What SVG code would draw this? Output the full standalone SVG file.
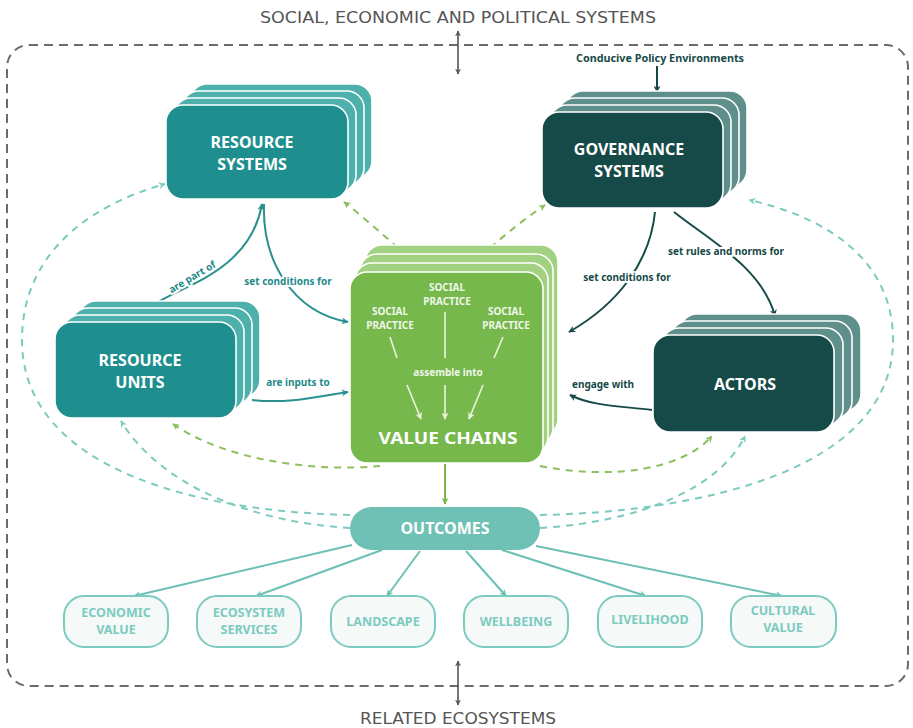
<svg xmlns="http://www.w3.org/2000/svg" width="913" height="728" viewBox="0 0 913 728">
  <defs>
    <style>
      .frame{fill:none;stroke:#6b6b6b;stroke-width:2;stroke-dasharray:9 6}
      .sys{font-family:"DejaVu Sans Condensed","DejaVu Sans",sans-serif;font-size:16px;fill:#555;text-anchor:middle}
      .card{stroke:#fff;stroke-width:1.6}
      .rs-back{fill:#4eb0ab}.rs-front{fill:#1e8f8e}
      .gv-back{fill:#5e8f8b}.gv-front{fill:#164a48}
      .vc-back{fill:#a3d182}.vc-front{fill:#77b84c}
      .title{font-family:"Noto Sans","Open Sans",sans-serif;font-weight:700;font-size:16px;fill:#fff;text-anchor:middle}
      .small{font-family:"Noto Sans","Open Sans",sans-serif;font-weight:700;font-size:10px;fill:#eef6e8;text-anchor:middle}
      .lbl{font-family:"Noto Sans","Open Sans",sans-serif;font-weight:700;font-size:10px;text-anchor:middle;paint-order:stroke;stroke:#fff;stroke-width:4px;stroke-linejoin:round}
      .lt{fill:#1e8a8a}.ld{fill:#164a48}
      .c-teal{fill:none;stroke:#2a9090;stroke-width:2;marker-end:url(#ah-teal)}
      .c-dark{fill:none;stroke:#164a48;stroke-width:2;marker-end:url(#ah-dark)}
      .c-gdash{fill:none;stroke:#8dbf5e;stroke-width:2;stroke-dasharray:7 6;marker-end:url(#ah-gdash)}
      .c-tdash{fill:none;stroke:#7ccbc0;stroke-width:2;stroke-dasharray:7 6;marker-end:url(#ah-tdash)}
      .c-out{fill:none;stroke:#6cc0b5;stroke-width:2;marker-end:url(#ah-out)}
      .c-in{fill:none;stroke:#eaf4e2;stroke-width:1.6}
      .c-inar{fill:none;stroke:#eaf4e2;stroke-width:1.6;marker-end:url(#ah-white)}
      .res{fill:#f5f9f8;stroke:#7ccbc0;stroke-width:2}
      .rest{font-family:"Noto Sans","Open Sans",sans-serif;font-weight:700;font-size:12.5px;fill:#7ccbc0;text-anchor:middle}
    </style>
    <marker id="ah-teal" viewBox="0 0 10 10" refX="9" refY="5" markerWidth="7" markerHeight="7" markerUnits="userSpaceOnUse" orient="auto"><path d="M0,0 L10,5 L0,10 L3,5 Z" fill="#2a9090"/></marker>
    <marker id="ah-dark" viewBox="0 0 10 10" refX="9" refY="5" markerWidth="7" markerHeight="7" markerUnits="userSpaceOnUse" orient="auto"><path d="M0,0 L10,5 L0,10 L3,5 Z" fill="#164a48"/></marker>
    <marker id="ah-gdash" viewBox="0 0 10 10" refX="9" refY="5" markerWidth="7" markerHeight="7" markerUnits="userSpaceOnUse" orient="auto"><path d="M0,0 L10,5 L0,10 L3,5 Z" fill="#8dbf5e"/></marker>
    <marker id="ah-tdash" viewBox="0 0 10 10" refX="9" refY="5" markerWidth="7" markerHeight="7" markerUnits="userSpaceOnUse" orient="auto"><path d="M0,0 L10,5 L0,10 L3,5 Z" fill="#7ccbc0"/></marker>
    <marker id="ah-out" viewBox="0 0 10 10" refX="9" refY="5" markerWidth="7" markerHeight="7" markerUnits="userSpaceOnUse" orient="auto"><path d="M0,0 L10,5 L0,10 L3,5 Z" fill="#6cc0b5"/></marker>
    <marker id="ah-green" viewBox="0 0 10 10" refX="9" refY="5" markerWidth="7" markerHeight="7" markerUnits="userSpaceOnUse" orient="auto"><path d="M0,0 L10,5 L0,10 L3,5 Z" fill="#7ab648"/></marker>
    <marker id="ah-white" viewBox="0 0 10 10" refX="9" refY="5" markerWidth="7" markerHeight="7" markerUnits="userSpaceOnUse" orient="auto"><path d="M0,0 L10,5 L0,10 L3,5 Z" fill="#eaf4e2"/></marker>
    <marker id="ah-gray" viewBox="0 0 10 10" refX="9" refY="5" markerWidth="6" markerHeight="6" markerUnits="userSpaceOnUse" orient="auto-start-reverse"><path d="M0,0 L10,5 L0,10 L3,5 Z" fill="#555"/></marker>
  </defs>

  <rect width="913" height="728" fill="#fff"/>

  <!-- outer system boundary -->
  <g id="boundary">
    <rect class="frame" x="7" y="45" width="901" height="641" rx="22"/>
    <text class="sys" x="458" y="23" textLength="396" lengthAdjust="spacingAndGlyphs">SOCIAL, ECONOMIC AND POLITICAL SYSTEMS</text>
    <line x1="458" y1="31" x2="458" y2="74" stroke="#555" stroke-width="1.6" marker-start="url(#ah-gray)" marker-end="url(#ah-gray)"/>
    <text class="sys" x="458" y="724" textLength="196" lengthAdjust="spacingAndGlyphs">RELATED ECOSYSTEMS</text>
    <line x1="458" y1="661" x2="458" y2="705" stroke="#555" stroke-width="1.6" marker-start="url(#ah-gray)" marker-end="url(#ah-gray)"/>
  </g>

  <!-- connectors -->
  <g id="connectors">
    <!-- dashed feedback loops from outcomes -->
    <path class="c-tdash" d="M350,515 C200,512 22,470 22,340 C22,260 80,208 165,184"/>
    <path class="c-tdash" d="M350,528 C250,522 160,485 121,421"/>
    <path class="c-tdash" d="M540,515 C700,512 893,470 893,340 C893,262 830,218 749,200"/>
    <path class="c-tdash" d="M540,528 C640,522 720,488 745,436"/>
    <!-- dashed links from value chains -->
    <path class="c-gdash" d="M398,248 C380,232 362,216 344,202"/>
    <path class="c-gdash" d="M490,248 C508,232 526,218 545,205"/>
    <path class="c-gdash" d="M380,466 C320,472 228,462 173,424"/>
    <path class="c-gdash" d="M540,466 C612,480 682,470 712,436"/>

    <!-- resource side -->
    <path class="c-teal" d="M155,304 C180,286 250,272 262,204"/>
    <path class="c-teal" d="M264,204 C262,260 292,312 348,322"/>
    <path class="c-teal" d="M252,400 C290,404 320,396 348,392"/>

    <!-- governance side -->
    <path class="c-dark" d="M657,66 L657,92"/>
    <path class="c-dark" d="M655,212 C650,262 618,304 569,332"/>
    <path class="c-dark" d="M674,212 C712,242 762,268 775,316"/>
    <path class="c-dark" d="M652,410 C620,406 592,406 570,395"/>

    <!-- value chains to outcomes -->
    <path d="M445,464 L445,504" fill="none" stroke="#7ab648" stroke-width="2" marker-end="url(#ah-green)"/>

    <!-- outcomes to results -->
    <path class="c-out" d="M352,545 L134,596"/>
    <path class="c-out" d="M382,550 L256,596"/>
    <path class="c-out" d="M420,551 L387,596"/>
    <path class="c-out" d="M466,551 L506,596"/>
    <path class="c-out" d="M502,550 L646,596"/>
    <path class="c-out" d="M536,546 L782,596"/>

    <!-- connector labels -->
    <text class="lbl lt" transform="translate(194,280) rotate(-31)">are part of</text>
    <text class="lbl lt" x="288" y="285">set conditions for</text>
    <text class="lbl lt" x="298" y="386">are inputs to</text>
    <text class="lbl ld" x="627" y="281">set conditions for</text>
    <text class="lbl ld" x="726" y="255">set rules and norms for</text>
    <text class="lbl ld" x="603" y="388">engage with</text>
    <text class="lbl ld" x="660" y="62" textLength="168" lengthAdjust="spacingAndGlyphs">Conducive Policy Environments</text>
  </g>

  <!-- resource systems -->
  <g id="resource-systems">
    <rect class="card rs-back" x="190" y="84" width="182" height="94" rx="17"/>
    <rect class="card rs-back" x="182" y="91" width="182" height="94" rx="17"/>
    <rect class="card rs-back" x="174" y="98" width="182" height="94" rx="17"/>
    <rect class="card rs-front" x="166" y="105" width="182" height="94" rx="17"/>
    <text class="title" x="252" y="148">RESOURCE</text>
    <text class="title" x="252" y="170">SYSTEMS</text>
  </g>

  <!-- governance systems -->
  <g id="governance-systems">
    <rect class="card gv-back" x="566" y="91" width="181" height="96" rx="17"/>
    <rect class="card gv-back" x="558" y="98" width="181" height="96" rx="17"/>
    <rect class="card gv-back" x="550" y="105" width="181" height="96" rx="17"/>
    <rect class="card gv-front" x="542" y="112" width="181" height="96" rx="17"/>
    <text class="title" x="629" y="155">GOVERNANCE</text>
    <text class="title" x="629" y="177">SYSTEMS</text>
  </g>

  <!-- resource units -->
  <g id="resource-units">
    <rect class="card rs-back" x="79" y="301" width="181" height="96" rx="17"/>
    <rect class="card rs-back" x="71" y="308" width="181" height="96" rx="17"/>
    <rect class="card rs-back" x="63" y="315" width="181" height="96" rx="17"/>
    <rect class="card rs-front" x="55" y="322" width="181" height="96" rx="17"/>
    <text class="title" x="140" y="366">RESOURCE</text>
    <text class="title" x="140" y="388">UNITS</text>
  </g>

  <!-- actors -->
  <g id="actors">
    <rect class="card gv-back" x="680" y="314" width="181" height="97" rx="17"/>
    <rect class="card gv-back" x="671" y="321" width="181" height="97" rx="17"/>
    <rect class="card gv-back" x="662" y="328" width="181" height="97" rx="17"/>
    <rect class="card gv-front" x="653" y="335" width="181" height="97" rx="17"/>
    <text class="title" x="745" y="390">ACTORS</text>
  </g>

  <!-- value chains -->
  <g id="value-chains">
    <rect class="card vc-back" x="365" y="245" width="193" height="191" rx="17"/>
    <rect class="card vc-back" x="360" y="254" width="193" height="191" rx="17"/>
    <rect class="card vc-back" x="355" y="263" width="193" height="191" rx="17"/>
    <rect class="card vc-front" x="350" y="272" width="193" height="191" rx="17"/>
    <text class="small" x="447" y="291">SOCIAL</text>
    <text class="small" x="447" y="305">PRACTICE</text>
    <text class="small" x="390" y="315">SOCIAL</text>
    <text class="small" x="390" y="329">PRACTICE</text>
    <text class="small" x="506" y="315">SOCIAL</text>
    <text class="small" x="506" y="329">PRACTICE</text>
    <line class="c-in" x1="445" y1="312" x2="445" y2="358"/>
    <line class="c-in" x1="390" y1="337" x2="397" y2="358"/>
    <line class="c-in" x1="503" y1="337" x2="494" y2="358"/>
    <text class="small" x="448" y="376" font-size="12.5">assemble into</text>
    <line class="c-inar" x1="407" y1="385" x2="421" y2="419"/>
    <line class="c-inar" x1="445" y1="385" x2="445" y2="419"/>
    <line class="c-inar" x1="483" y1="385" x2="469" y2="419"/>
    <text class="title" x="448" y="444" font-size="18.5" textLength="139" lengthAdjust="spacingAndGlyphs">VALUE CHAINS</text>
  </g>

  <!-- outcomes -->
  <g id="outcomes">
    <rect x="350" y="507" width="190" height="43" rx="21.5" fill="#6fc1b6"/>
    <text class="title" x="445" y="534">OUTCOMES</text>
  </g>

  <!-- outcome categories -->
  <g id="economic-value">
    <rect class="res" x="64" y="596" width="104" height="51" rx="20"/>
    <text class="rest" x="116" y="617">ECONOMIC</text>
    <text class="rest" x="116" y="634">VALUE</text>
  </g>
  <g id="ecosystem-services">
    <rect class="res" x="197" y="596" width="104" height="51" rx="20"/>
    <text class="rest" x="249" y="617">ECOSYSTEM</text>
    <text class="rest" x="249" y="634">SERVICES</text>
  </g>
  <g id="landscape">
    <rect class="res" x="331" y="596" width="104" height="51" rx="20"/>
    <text class="rest" x="383" y="626">LANDSCAPE</text>
  </g>
  <g id="wellbeing">
    <rect class="res" x="464" y="596" width="104" height="51" rx="20"/>
    <text class="rest" x="516" y="626">WELLBEING</text>
  </g>
  <g id="livelihood">
    <rect class="res" x="598" y="596" width="104" height="51" rx="20"/>
    <text class="rest" x="650" y="624">LIVELIHOOD</text>
  </g>
  <g id="cultural-value">
    <rect class="res" x="731" y="596" width="105" height="51" rx="20"/>
    <text class="rest" x="783" y="615">CULTURAL</text>
    <text class="rest" x="783" y="632">VALUE</text>
  </g>
</svg>
